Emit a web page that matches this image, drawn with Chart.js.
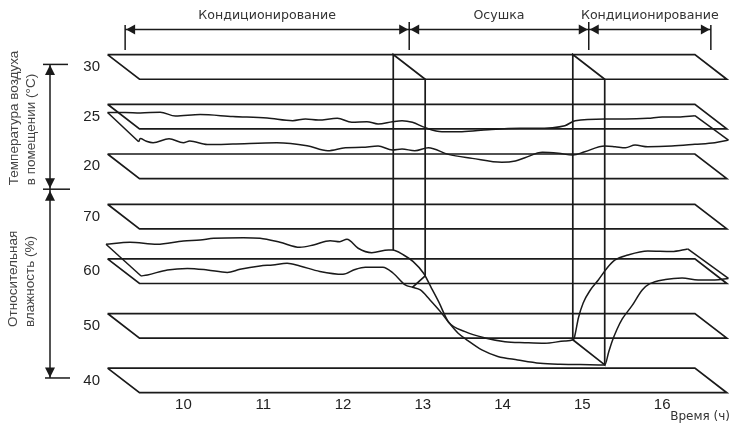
<!DOCTYPE html>
<html><head><meta charset="utf-8">
<script src="https://cdn.jsdelivr.net/npm/chart.js@4.4.1/dist/chart.umd.min.js"></script>
<style>html,body{margin:0;padding:0;background:#fff;}#wrap{width:730px;height:432px;}</style>
</head><body><div id="wrap"><canvas id="c" width="730" height="432"></canvas></div>
<script>
// ---------- data ----------
const TIME_TICKS = [10, 11, 12, 13, 14, 15, 16];
const TEMP_TICKS = [30, 25, 20];
const HUM_TICKS = [70, 60, 50, 40];
const PHASE_LABELS = ['Кондиционирование', 'Осушка', 'Кондиционирование'];
const PHASE_BOUNDS = [9.27, 12.83, 15.08, 16.61];
const PLANE_SPAN = [9.25, 16.61];

// temperature, back plane
const TB_T = [9.25, 9.47, 9.66, 9.91, 10.10, 10.41, 10.82, 11.25, 11.57, 11.73, 11.89, 12.13, 12.31, 12.50, 12.64, 12.82, 12.94, 13.07, 13.23, 13.44, 13.69, 14.02, 14.42, 14.61, 14.98, 15.11, 15.48, 15.74, 16.02, 16.20, 16.40, 16.61];
const TB_V = [24.18, 24.18, 24.13, 24.20, 23.82, 23.97, 23.77, 23.62, 23.35, 23.52, 23.42, 23.59, 23.19, 23.25, 23.02, 23.25, 23.35, 23.19, 22.65, 22.24, 22.24, 22.45, 22.59, 22.59, 22.85, 23.35, 23.52, 23.52, 23.59, 23.72, 23.72, 23.85];
// temperature, front plane
const TF_T = [9.24, 9.26, 9.33, 9.42, 9.62, 9.80, 9.88, 10.10, 10.42, 10.97, 11.35, 11.61, 11.83, 12.04, 12.24, 12.42, 12.54, 12.70, 12.87, 13.12, 13.42, 13.79, 13.96, 14.08, 14.30, 14.50, 14.68, 14.83, 15.08, 15.21, 15.34, 15.46, 15.62, 15.92, 16.21, 16.46, 16.63];
const TF_V = [23.71, 24.03, 23.78, 23.61, 24.01, 23.61, 23.78, 23.43, 23.48, 23.61, 23.31, 22.81, 23.11, 23.15, 23.28, 22.88, 22.98, 22.81, 23.11, 22.44, 22.04, 21.64, 21.77, 22.10, 22.65, 22.55, 22.37, 22.71, 23.28, 23.21, 23.11, 23.38, 23.21, 23.28, 23.45, 23.61, 23.88];
// humidity, back plane
const HB_T = [9.23, 9.53, 9.87, 10.20, 10.41, 10.58, 10.95, 11.16, 11.41, 11.66, 11.83, 12.04, 12.16, 12.25, 12.39, 12.56, 12.77, 12.82, 12.96, 13.08, 13.21, 13.31, 13.40, 13.52, 13.73, 13.98, 14.23, 14.48, 14.73, 14.98, 15.09, 15.11, 15.15, 15.21, 15.30, 15.40, 15.51, 15.61, 15.77, 16.02, 16.32, 16.52];
const HB_V = [62.68, 63.05, 62.68, 63.29, 63.47, 63.78, 63.89, 63.78, 63.05, 62.13, 62.55, 63.34, 63.16, 63.60, 61.95, 61.14, 61.64, 61.64, 60.72, 59.50, 57.37, 54.62, 52.12, 48.51, 46.68, 45.52, 44.84, 44.66, 44.55, 44.97, 45.25, 46.25, 49.18, 51.93, 54.31, 56.14, 58.34, 59.81, 60.72, 61.46, 61.36, 61.82];
// humidity, front plane
const HF_T = [9.27, 9.35, 9.60, 9.85, 10.10, 10.35, 10.51, 10.76, 10.92, 11.10, 11.26, 11.51, 11.80, 11.95, 12.08, 12.30, 12.43, 12.58, 12.67, 12.77, 12.89, 13.02, 13.12, 13.24, 13.37, 13.54, 13.74, 13.99, 14.27, 14.52, 14.77, 15.08, 15.13, 15.17, 15.23, 15.30, 15.42, 15.55, 15.64, 15.84, 16.05, 16.25, 16.46, 16.63];
const HF_V = [61.38, 61.57, 62.48, 62.76, 62.48, 62.02, 62.61, 63.21, 63.40, 63.71, 63.21, 62.21, 61.69, 62.57, 62.98, 62.98, 61.88, 59.74, 59.31, 58.82, 56.99, 54.85, 52.96, 50.94, 49.48, 47.83, 46.64, 46.00, 45.39, 45.21, 45.17, 45.08, 47.46, 49.30, 51.49, 53.51, 55.89, 58.82, 59.92, 60.74, 61.02, 60.65, 60.65, 60.93];

// phase-change boxes
const BOX_TIMES = [12.83, 15.08];
const BOX_BACK_BOTTOM = [61.6, 45.2];
const BOX_FRONT_BOTTOM = [61.4, 45.1];
const BOX_END_T = [12.67, 15.08];
const BOX_END_V = [59.3, 45.2];
const BOX_END_DEPTH = [1, -1];

const TEMP_SPAN = [30.25, 17.7];
const HUM_SPAN_BOTTOM = 40.45;

// ---------- layout / projection ----------
const X_RANGE = [8.955, 16.85];
const T_RANGE = [-3.1, 31.7];
const H_RANGE = [37.15, 100.5];
const DX = 0.2, DYT = 1.24, DYH = 2.25;   // depth offsets (back = -1, front = +1)
const INK = '#1a1a1a';

function pt(t, v, depth, dy) { return { x: t + depth * DX, y: v - depth * dy }; }
function tempToHum(T) {
  return H_RANGE[1] - (T_RANGE[1] - T) / (T_RANGE[1] - T_RANGE[0]) * (H_RANGE[1] - H_RANGE[0]);
}
function humToTemp(H) {
  return T_RANGE[1] - (H_RANGE[1] - H) / (H_RANGE[1] - H_RANGE[0]) * (T_RANGE[1] - T_RANGE[0]);
}
function lineDs(data, axis, width, smooth) {
  return {
    data, yAxisID: axis, showLine: true, borderColor: INK, borderWidth: width,
    pointRadius: 0, fill: false, clip: false,
    cubicInterpolationMode: smooth ? 'monotone' : 'default', tension: 0
  };
}

const datasets = [];
const [P0, P1] = PLANE_SPAN;
TEMP_TICKS.forEach(v => datasets.push(lineDs([pt(P0, v, -1, DYT), pt(P1, v, -1, DYT), pt(P1, v, 1, DYT), pt(P0, v, 1, DYT), pt(P0, v, -1, DYT)], 'yT', 1.7, false)));
HUM_TICKS.forEach(v => datasets.push(lineDs([pt(P0, v, -1, DYH), pt(P1, v, -1, DYH), pt(P1, v, 1, DYH), pt(P0, v, 1, DYH), pt(P0, v, -1, DYH)], 'yH', 1.7, false)));

datasets.push(lineDs(TB_T.map((t, i) => pt(t, TB_V[i], -1, DYT)), 'yT', 1.5, true));
datasets.push(lineDs(TF_T.map((t, i) => pt(t, TF_V[i], 1, DYT)), 'yT', 1.5, true));
datasets.push(lineDs(HB_T.map((t, i) => pt(t, HB_V[i], -1, DYH)), 'yH', 1.5, true));
datasets.push(lineDs(HF_T.map((t, i) => pt(t, HF_V[i], 1, DYH)), 'yH', 1.5, true));
// depth connectors at both ends of the curves
const LT = TB_T.length - 1, LF = TF_T.length - 1, LHB = HB_T.length - 1, LHF = HF_T.length - 1;
datasets.push(lineDs([pt(TB_T[0], TB_V[0], -1, DYT), pt(TF_T[0], TF_V[0], 1, DYT)], 'yT', 1.5, false));
datasets.push(lineDs([pt(TB_T[LT], TB_V[LT], -1, DYT), pt(TF_T[LF], TF_V[LF], 1, DYT)], 'yT', 1.5, false));
datasets.push(lineDs([pt(HB_T[0], HB_V[0], -1, DYH), pt(HF_T[0], HF_V[0], 1, DYH)], 'yH', 1.5, false));
datasets.push(lineDs([pt(HB_T[LHB], HB_V[LHB], -1, DYH), pt(HF_T[LHF], HF_V[LHF], 1, DYH)], 'yH', 1.5, false));
// boxes
const TOP = Math.max(...TEMP_TICKS);
BOX_TIMES.forEach((t, i) => {
  const bt = pt(t, TOP, -1, DYT), ft = pt(t, TOP, 1, DYT);
  datasets.push(lineDs([
    pt(t, BOX_BACK_BOTTOM[i], -1, DYH),
    { x: bt.x, y: tempToHum(bt.y) },
    { x: ft.x, y: tempToHum(ft.y) },
    pt(t, BOX_FRONT_BOTTOM[i], 1, DYH),
    pt(BOX_END_T[i], BOX_END_V[i], BOX_END_DEPTH[i], DYH)
  ], 'yH', 1.7, false));
});

// left axis labels: temperature ticks followed by humidity ticks (mapped onto the same axis)
const Y_LABELS = [...TEMP_TICKS, ...HUM_TICKS].map(String);
const Y_TICK_VALUES = [...TEMP_TICKS, ...HUM_TICKS.map(humToTemp)];

// ---------- annotations ----------
const annot = {
  id: 'annot',
  afterDraw(chart) {
    const { ctx } = chart;
    const { x, yT, yH } = chart.scales;
    ctx.save();
    ctx.strokeStyle = INK; ctx.fillStyle = INK; ctx.lineWidth = 1.5;
    const line = (a, b, c, d) => { ctx.beginPath(); ctx.moveTo(a, b); ctx.lineTo(c, d); ctx.stroke(); };
    const tri = (p) => { ctx.beginPath(); ctx.moveTo(p[0], p[1]); ctx.lineTo(p[2], p[3]); ctx.lineTo(p[4], p[5]); ctx.closePath(); ctx.fill(); };
    const head = (px, py, dir) => {
      const L = 9, W = 5;
      if (dir === 'left') tri([px, py, px + L, py - W, px + L, py + W]);
      if (dir === 'right') tri([px, py, px - L, py - W, px - L, py + W]);
      if (dir === 'up') tri([px, py, px - W, py + L + 1, px + W, py + L + 1]);
      if (dir === 'down') tri([px, py, px - W, py - L - 1, px + W, py - L - 1]);
    };
    // phase arrows
    const xs = PHASE_BOUNDS.map(t => x.getPixelForValue(t));
    const ay = 29.5;
    line(xs[0], ay, xs[xs.length - 1], ay);
    xs.forEach((px, i) => line(px, (i === 0 || i === xs.length - 1) ? 25 : 22, px, 50));
    for (let i = 0; i < xs.length - 1; i++) { head(xs[i] + 1, ay, 'left'); head(xs[i + 1] - 1, ay, 'right'); }
    ctx.fillStyle = '#333';
    ctx.font = '12.6px "DejaVu Sans"'; ctx.textAlign = 'center'; ctx.textBaseline = 'middle';
    PHASE_LABELS.forEach((s, i) => ctx.fillText(s, (xs[i] + xs[i + 1]) / 2, 16));
    // left range arrows
    ctx.fillStyle = INK;
    const axx = 50;
    const pA = yT.getPixelForValue(TEMP_SPAN[0]);
    const pB = yT.getPixelForValue(TEMP_SPAN[1]);
    const pC = yH.getPixelForValue(HUM_SPAN_BOTTOM);
    line(axx, pA, axx, pC);
    line(43, pA, 68, pA); line(43, pB, 70, pB); line(45, pC, 70, pC);
    head(axx, pA + 0.5, 'up'); head(axx, pB - 1, 'down'); head(axx, pB + 1.5, 'up'); head(axx, pC - 0.5, 'down');
    // rotated titles
    ctx.fillStyle = '#444';
    ctx.font = '13.5px "Liberation Sans"'; ctx.textAlign = 'left'; ctx.textBaseline = 'middle';
    const rot = (lines, lx, y0) => lines.forEach((s, i) => {
      ctx.save(); ctx.translate(lx[i], y0); ctx.rotate(-Math.PI / 2); ctx.fillText(s, 0, 0); ctx.restore();
    });
    rot(['Температура воздуха', 'в помещении (°C)'], [14, 31], pB - 4);
    rot(['Относительная', 'влажность (%)'], [13, 30], 327);
    ctx.restore();
  }
};

const tickFont = { family: '"Liberation Sans", Arial, sans-serif', size: 15 };
new Chart(document.getElementById('c'), {
  type: 'scatter',
  data: { datasets },
  plugins: [annot],
  options: {
    responsive: false, animation: false, events: [],
    layout: { padding: { top: 50, left: 0, right: 0, bottom: 0 } },
    plugins: { legend: { display: false }, tooltip: { enabled: false } },
    scales: {
      x: {
        type: 'linear', position: 'bottom', min: X_RANGE[0], max: X_RANGE[1],
        afterBuildTicks: s => { s.ticks = TIME_TICKS.map(v => ({ value: v })); },
        afterFit: s => { s.height = 36; },
        grid: { display: false, drawTicks: false }, border: { display: false },
        ticks: { autoSkip: false, maxRotation: 0, padding: 0, color: '#222', font: tickFont },
        title: { display: true, text: 'Время (ч)', align: 'end', color: '#333', font: { family: '"DejaVu Sans"', size: 12 }, padding: { top: 0, bottom: 8 } }
      },
      yT: {
        type: 'linear', position: 'left', min: T_RANGE[0], max: T_RANGE[1],
        afterBuildTicks: s => { s.ticks = Y_TICK_VALUES.map(v => ({ value: v })); },
        afterFit: s => { s.width = 100; },
        grid: { display: false, drawTicks: false }, border: { display: false },
        ticks: { autoSkip: false, padding: 0, color: '#222', font: tickFont, callback: (v, i) => Y_LABELS[i] }
      },
      yH: {
        type: 'linear', position: 'left', display: false, min: H_RANGE[0], max: H_RANGE[1]
      }
    }
  }
});
</script></body></html>
